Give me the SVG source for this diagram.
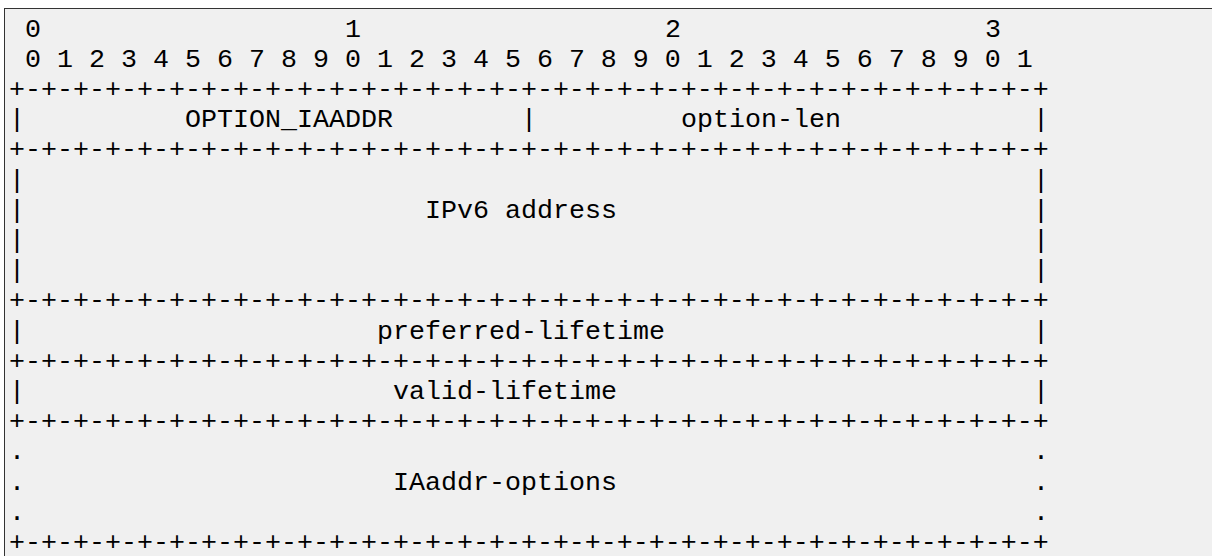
<svg xmlns="http://www.w3.org/2000/svg" width="1212" height="556" viewBox="0 0 1212 556">
<style>
text{font-family:"Liberation Mono","Cousine",monospace;font-size:26.667px;fill:#000;}
</style>
<rect x="0" y="0" width="1212" height="556" fill="#ffffff"/>
<rect x="4.5" y="8.5" width="1300" height="700" fill="#f0f0f0" stroke="#333333" stroke-width="1"/>
<g id="ruler">
<text x="25" y="36.5">0</text>
<text x="345" y="36.5">1</text>
<text x="665" y="36.5">2</text>
<text x="985" y="36.5">3</text>
<text x="25" y="66.71">0 1 2 3 4 5 6 7 8 9 0 1 2 3 4 5 6 7 8 9 0 1 2 3 4 5 6 7 8 9 0 1</text>
</g>
<g id="borders">
<text x="9" y="96.92">+-+-+-+-+-+-+-+-+-+-+-+-+-+-+-+-+-+-+-+-+-+-+-+-+-+-+-+-+-+-+-+-+</text>
<text x="9" y="157.34">+-+-+-+-+-+-+-+-+-+-+-+-+-+-+-+-+-+-+-+-+-+-+-+-+-+-+-+-+-+-+-+-+</text>
<text x="9" y="308.39">+-+-+-+-+-+-+-+-+-+-+-+-+-+-+-+-+-+-+-+-+-+-+-+-+-+-+-+-+-+-+-+-+</text>
<text x="9" y="368.81">+-+-+-+-+-+-+-+-+-+-+-+-+-+-+-+-+-+-+-+-+-+-+-+-+-+-+-+-+-+-+-+-+</text>
<text x="9" y="429.23">+-+-+-+-+-+-+-+-+-+-+-+-+-+-+-+-+-+-+-+-+-+-+-+-+-+-+-+-+-+-+-+-+</text>
<text x="9" y="550.07">+-+-+-+-+-+-+-+-+-+-+-+-+-+-+-+-+-+-+-+-+-+-+-+-+-+-+-+-+-+-+-+-+</text>
</g>
<g id="field-option-code">
<text x="9" y="127.13">|</text>
<text x="185" y="127.13">OPTION_IAADDR</text>
<text x="521" y="127.13">|</text>
</g>
<g id="field-option-len">
<text x="681" y="127.13">option-len</text>
<text x="1033" y="127.13">|</text>
</g>
<g id="field-ipv6-address">
<text x="9" y="187.55">|</text><text x="1033" y="187.55">|</text>
<text x="9" y="217.76">|</text><text x="425" y="217.76">IPv6 address</text><text x="1033" y="217.76">|</text>
<text x="9" y="247.97">|</text><text x="1033" y="247.97">|</text>
<text x="9" y="278.18">|</text><text x="1033" y="278.18">|</text>
</g>
<g id="field-preferred-lifetime">
<text x="9" y="338.6">|</text><text x="377" y="338.6">preferred-lifetime</text><text x="1033" y="338.6">|</text>
</g>
<g id="field-valid-lifetime">
<text x="9" y="399.02">|</text><text x="393" y="399.02">valid-lifetime</text><text x="1033" y="399.02">|</text>
</g>
<g id="field-iaaddr-options">
<text x="9" y="459.44">.</text><text x="1033" y="459.44">.</text>
<text x="9" y="489.65">.</text><text x="393" y="489.65">IAaddr-options</text><text x="1033" y="489.65">.</text>
<text x="9" y="519.86">.</text><text x="1033" y="519.86">.</text>
</g>
</svg>
